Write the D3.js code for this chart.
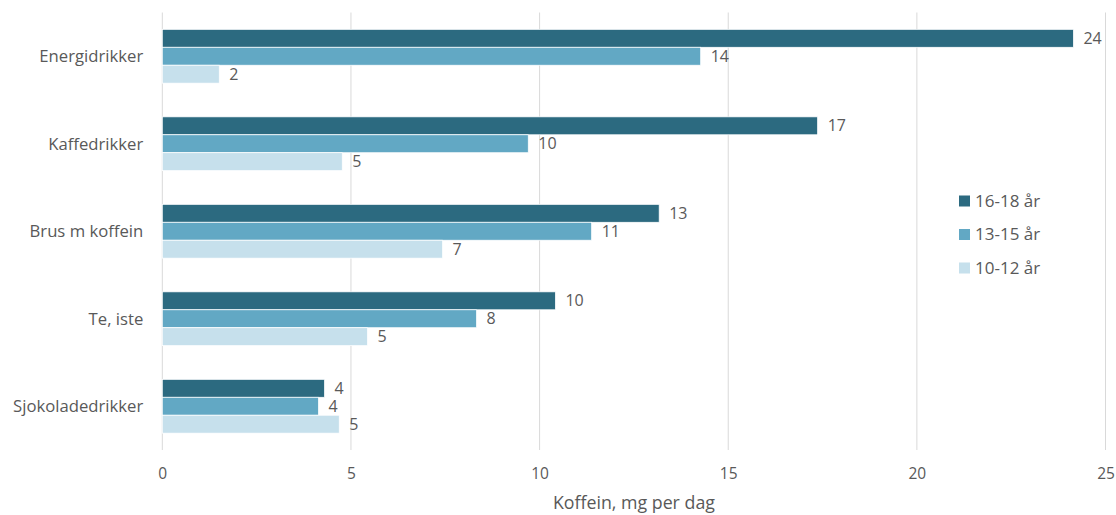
<!DOCTYPE html>
<html>
<head>
<meta charset="utf-8">
<script src="https://cdn.jsdelivr.net/npm/d3@7"></script>
<style>
  body { margin: 0; background: #fff; }
  text { font-family: "Open Sans", sans-serif; fill: #595959; }
</style>
</head>
<body>
<svg id="chart" width="1116" height="515"></svg>
<script>
const categories = ["Energidrikker", "Kaffedrikker", "Brus m koffein", "Te, iste", "Sjokoladedrikker"];
const seriesNames = ["16-18 år", "13-15 år", "10-12 år"];
const values1618 = [24.15, 17.37, 13.17, 10.42, 4.3];
const values1315 = [14.27, 9.7, 11.38, 8.33, 4.14];
const values1012 = [1.51, 4.77, 7.43, 5.44, 4.69];
const xTicks = [0, 5, 10, 15, 20, 25];
const colors = ["#2c6a80", "#62a8c4", "#c6e0ec"];
const axisTitle = "Koffein, mg per dag";

const seriesValues = [values1618, values1315, values1012];
const svg = d3.select("#chart");
const m = { left: 162.3, right: 1116 - 1105.5, top: 12.5, bottom: 515 - 450 };
const W = 1116, H = 515;

const x = d3.scaleLinear().domain([0, 25]).range([m.left, W - m.right]);
const y = d3.scaleBand().domain(categories).range([m.top, H - m.bottom])
  .paddingInner(0.385).paddingOuter(0.1925);
const ySub = d3.scaleBand().domain(seriesNames).range([0, y.bandwidth()]);

// gridlines
svg.append("g").selectAll("line").data(xTicks).join("line")
  .attr("x1", d => x(d)).attr("x2", d => x(d))
  .attr("y1", m.top).attr("y2", H - m.bottom)
  .attr("stroke", "#d9d9d9").attr("stroke-width", 1);

// bars
const groups = svg.append("g").selectAll("g").data(categories).join("g")
  .attr("transform", d => `translate(0,${y(d)})`);

groups.each(function(cat, ci) {
  const g = d3.select(this);
  seriesNames.forEach((s, si) => {
    const v = seriesValues[si][ci];
    g.append("rect")
      .attr("x", x(0)).attr("y", ySub(s))
      .attr("width", x(v) - x(0)).attr("height", ySub.bandwidth())
      .attr("fill", colors[si]).attr("stroke", "#fff").attr("stroke-width", 0.75);
    g.append("text")
      .attr("x", x(v) + 10).attr("y", ySub(s) + ySub.bandwidth() / 2)
      .attr("dy", "0.35em").attr("font-size", 16)
      .text(d3.format(".0f")(v));
  });
});

// category labels
svg.append("g").selectAll("text").data(categories).join("text")
  .attr("x", m.left - 19).attr("y", d => y(d) + y.bandwidth() / 2)
  .attr("dy", "0.35em").attr("text-anchor", "end").attr("font-size", 16.7)
  .text(d => d);

// x tick labels
const xAxis = d3.axisBottom(x).tickValues(xTicks).tickSize(0).tickPadding(0);
const ax = svg.append("g").attr("transform", `translate(0,${H - m.bottom})`).call(xAxis);
ax.select(".domain").remove();
ax.selectAll("text").attr("y", 24).attr("dy", "0.35em").attr("font-size", 15.5)
  .style("font-family", '"Open Sans", sans-serif').attr("fill", "#595959");

// axis title
svg.append("text").attr("x", (x(0) + x(25)) / 2).attr("y", 503).attr("dy", "0.35em")
  .attr("text-anchor", "middle").attr("font-size", 17.8).text(axisTitle);

// legend
const leg = svg.append("g").attr("transform", "translate(959,201)");
seriesNames.forEach((s, i) => {
  const row = leg.append("g").attr("transform", `translate(0,${i * 33.5})`);
  row.append("rect").attr("x", 0).attr("y", -5.5).attr("width", 11).attr("height", 11).attr("fill", colors[i]);
  row.append("text").attr("x", 16).attr("y", 0).attr("dy", "0.35em").attr("font-size", 17).text(s);
});
</script>
</body>
</html>
